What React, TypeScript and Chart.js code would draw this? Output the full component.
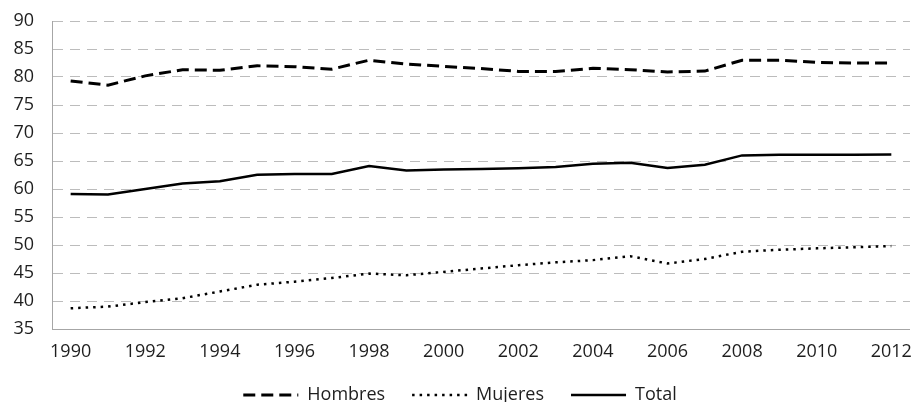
import { useEffect, useRef } from 'react';
import { Chart, registerables } from 'chart.js';

Chart.register(...registerables);

const years = ['1990','1991','1992','1993','1994','1995','1996','1997','1998','1999','2000','2001','2002','2003','2004','2005','2006','2007','2008','2009','2010','2011','2012'];
const hombres = [79.3,78.55,80.2,81.3,81.2,82.0,81.85,81.4,83.0,82.3,81.9,81.5,81.0,81.0,81.55,81.3,80.9,81.05,83.0,83.0,82.6,82.5,82.5];
const mujeres = [38.7,39.0,39.8,40.5,41.7,42.9,43.45,44.1,44.9,44.6,45.2,45.8,46.4,46.9,47.3,48.0,46.7,47.5,48.8,49.15,49.4,49.6,49.8];
const total = [59.1,59.0,60.0,61.0,61.4,62.55,62.7,62.7,64.1,63.3,63.5,63.55,63.7,63.95,64.5,64.7,63.75,64.35,66.0,66.1,66.1,66.1,66.15];
const seriesNames = ['Hombres', 'Mujeres', 'Total'];

const FONT = "'Open Sans', 'DejaVu Sans', sans-serif";
const TEXT = '#1e1e1e';

export default function App() {
  const ref = useRef<HTMLCanvasElement>(null);
  useEffect(() => {
    document.body.style.margin = '0';
    const chart = new Chart(ref.current!, {
      type: 'line',
      data: {
        labels: years,
        datasets: [
          { label: seriesNames[0], data: hombres, borderColor: '#000', backgroundColor: '#000', borderWidth: 3, borderDash: [12, 6], pointRadius: 0, tension: 0 },
          { label: seriesNames[1], data: mujeres, borderColor: '#000', backgroundColor: '#000', borderWidth: 2.5, borderDash: [2.5, 5], pointRadius: 0, tension: 0 },
          { label: seriesNames[2], data: total, borderColor: '#000', backgroundColor: '#000', borderWidth: 2.5, pointRadius: 0, tension: 0 },
        ],
      },
      options: {
        animation: false,
        responsive: true,
        maintainAspectRatio: false,
        layout: { padding: { left: 0, right: 4, top: 21, bottom: 0 } },
        plugins: {
          tooltip: { enabled: false },
          legend: {
            position: 'bottom',
            maxHeight: 43,
            labels: {
              usePointStyle: true,
              pointStyle: 'line',
              pointStyleWidth: 55,
              padding: 27,
              color: TEXT,
              font: { family: FONT, size: 18 },
              generateLabels: (c: any) => {
                const items = Chart.defaults.plugins.legend.labels.generateLabels(c);
                return items.map((it: any, i: number) => {
                  const ds: any = c.data.datasets[i];
                  return {
                    ...it,
                    pointStyle: 'line',
                    strokeStyle: '#000',
                    lineWidth: ds.borderWidth,
                    lineDash: ds.borderDash || [],
                    lineCap: 'butt',
                  };
                });
              },
            },
          },
        },
        scales: {
          x: {
            type: 'category',
            offset: true,
            grid: { display: false, drawTicks: false },
            border: { display: true, color: '#a6a6a6', width: 1 },
            ticks: {
              autoSkip: false,
              maxRotation: 0,
              padding: 12,
              color: TEXT,
              font: { family: FONT, size: 18 },
              callback: (_v: any, i: number) => (i % 2 === 0 ? years[i] : ''),
            },
            afterFit: (s: any) => { s.height = 30; },
          },
          y: {
            min: 35,
            max: 90,
            grid: { color: '#bcbcbc', lineWidth: 1, drawTicks: false },
            border: { display: true, color: '#a6a6a6', width: 1, dash: [10, 7] },
            ticks: {
              stepSize: 5,
              padding: 18,
              color: TEXT,
              font: { family: FONT, size: 18 },
            },
            afterFit: (s: any) => { s.width = 52; s.paddingTop = 0; s.paddingBottom = 0; },
          },
        },
      },
    });
    return () => chart.destroy();
  }, []);
  return (
    <div style={{ width: 924, height: 402, position: 'relative' }}>
      <canvas ref={ref} />
    </div>
  );
}
